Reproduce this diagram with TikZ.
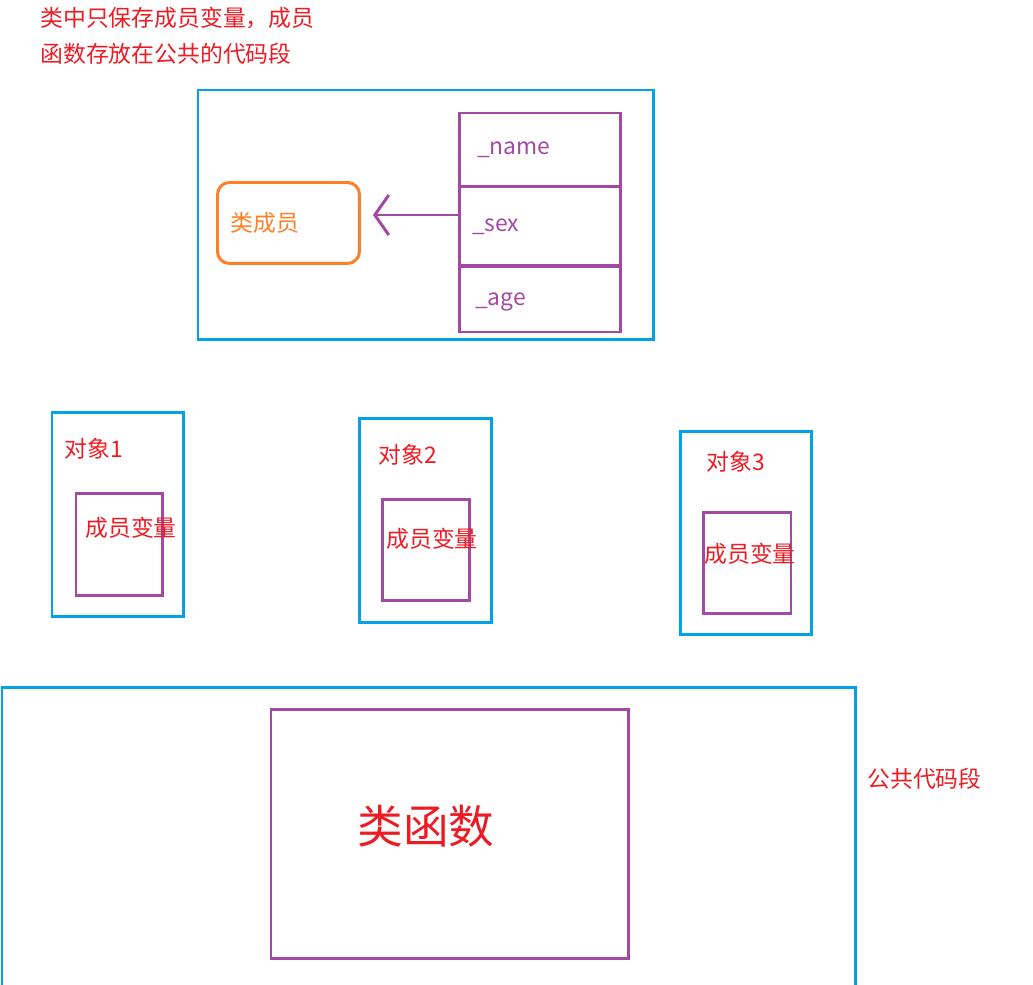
\documentclass[tikz,border=0pt]{standalone}
\usepackage{fontspec}
\setmainfont{Noto Sans CJK SC}
\usetikzlibrary{arrows.meta, positioning}
\definecolor{paintblue}{RGB}{0,162,232}
\definecolor{paintpurple}{RGB}{163,73,164}
\definecolor{paintorange}{RGB}{255,127,39}
\definecolor{paintred}{RGB}{237,28,36}

\begin{document}
\begin{tikzpicture}[x=0.02cm, y=-0.02cm,
    frame/.style={rectangle, draw=paintblue, line width=1.7pt, inner sep=0pt, outer sep=0pt, anchor=north west},
    varbox/.style={rectangle, draw=paintpurple, line width=1.7pt, inner sep=0pt, outer sep=0pt, anchor=north west},
    cell/.style={varbox, minimum width=3.24cm, text width=2.6cm, inner xsep=0.32cm, align=left, font=\fontsize{13}{16}\selectfont, text=paintpurple},
    tag/.style={inner sep=0pt, anchor=west, text=paintred, font=\fontsize{13}{16}\selectfont},
    arrow/.style={-{Straight Barb[length=0.28cm, width=0.8cm]}, line width=1.7pt, color=paintpurple}
]
\useasboundingbox (0,0) rectangle (1033,984);

% note
\node[tag, align=left, font=\fontsize{13}{20.4}\selectfont] (note) at (40,36) {类中只保存成员变量，成员\\函数存放在公共的代码段};

% class
\node[frame, minimum width=9.12cm, minimum height=5cm] (cls) at (198,90) {};
\node[rectangle, rounded corners=0.24cm, draw=paintorange, line width=1.7pt, anchor=north west,
      minimum width=2.84cm, minimum height=1.62cm, text=paintorange,
      font=\fontsize{13}{16}\selectfont, text width=2.3cm, align=left] (member) at (216,181) {类成员};
\node[cell, minimum height=1.48cm, inner xsep=0.36cm, text width=2.52cm] (name) at (459,113) {\_name};
\node[cell, minimum height=1.58cm, inner xsep=0.26cm, text width=2.72cm] (sex) at (459,187) {\_sex};
\node[cell, minimum height=1.32cm, text depth=-0.3cm] (age) at (459,266) {\_age};
\coordinate (arrowstart) at ([yshift=0.23cm]sex.west);
\draw[arrow] (arrowstart) -- ([xshift=0.24cm]arrowstart -| member.east);

% objects
\node[frame, minimum width=2.64cm, minimum height=4.1cm] (obj1) at (52,412) {};
\node[tag] (objname1) at (64,449) {对象1};
\node[varbox, minimum width=1.74cm, minimum height=2.06cm] (vars1) at (76,493) {};
\node[tag] (varname1) at (85,528) {成员变量};

\node[frame, minimum width=2.66cm, minimum height=4.1cm] (obj2) at (359,418) {};
\node[tag] (objname2) at (378,455) {对象2};
\node[varbox, minimum width=1.76cm, minimum height=2.04cm] (vars2) at (382,499) {};
\node[tag] (varname2) at (386,539) {成员变量};

\node[frame, minimum width=2.64cm, minimum height=4.08cm] (obj3) at (680,431) {};
\node[tag] (objname3) at (706,462) {对象3};
\node[varbox, minimum width=1.76cm, minimum height=2.04cm] (vars3) at (703,512) {};
\node[tag] (varname3) at (704,554) {成员变量};

% code segment
\node[frame, minimum width=17.08cm, minimum height=7cm] (codeseg) at (2,687) {};
\node[varbox, minimum width=7.16cm, minimum height=5cm] (func) at (271,709) {};
\node[tag, font=\fontsize{26}{30}\selectfont] (funcname) at (357,826) {类函数};
\node[tag] (seglabel) at (867,779) {公共代码段};
\end{tikzpicture}
\end{document}
